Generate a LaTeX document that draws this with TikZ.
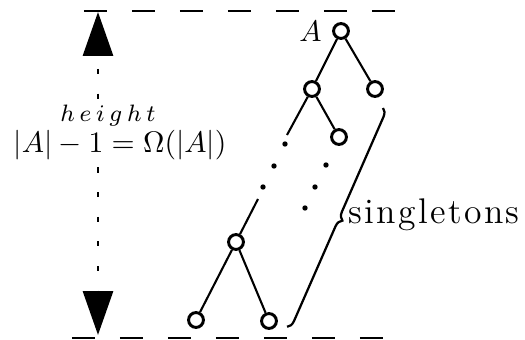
\documentclass[tikz,border=0pt]{standalone}
\usepackage{fontspec}
\usepackage{tikz}
\usetikzlibrary{arrows.meta, positioning, decorations.pathreplacing, calc}

\begin{document}
\begin{tikzpicture}[
    x=0.3367pt, y=-0.3367pt,
    vertex/.style={circle, draw, line width=1pt, fill=white, inner sep=0pt,
                   minimum size=5pt},
    edge/.style={line width=0.7pt},
    level/.style={line width=0.75pt, dash pattern=on 7.75pt off 8.4pt},
    measure/.style={line width=1pt, dash pattern=on 1.7pt off 6.6pt,
                    dash phase=3.7pt,
                    {Triangle[length=14.8pt, width=10.1pt]}-{Triangle[length=14.8pt, width=10.1pt]}},
]
    \useasboundingbox (0,0) rectangle (525,340);

    % Levels
    \coordinate (topl) at (84,11);
    \coordinate (topr) at (395,11);
    \coordinate (botl) at (72,338);
    \coordinate (botr) at (384,338);
    \draw[level] (topl) -- (topr);
    \draw[level] (botl) -- (botr);

    % Height arrow
    \coordinate (up) at (98,12);
    \coordinate (down) at (98,335);
    \draw[measure] (up) -- (down);
    \node[fill=white, inner sep=1pt] (bound) at (120,145)
        {$|A|-1=\Omega(|A|)$};
    \node[fill=white, inner sep=0.5pt, font=\footnotesize] (hlabel) at (108,116)
        {$h\kern1.6pt e\kern1.6pt i\kern1.6pt g\kern1.6pt h\kern1.6pt t$};

    % Tree
    \node[vertex] (root) at (341,31) {};
    \node[left=0pt of root] (rootname) {$A$};
    \node[vertex] (left1) at (312,89) {};
    \node[vertex] (right1) at (375,89) {};
    \node[vertex] (right2) at (339,137) {};
    \node[vertex] (left4) at (236,242) {};
    \node[vertex] (leaf1) at (196,320) {};
    \node[vertex] (leaf2) at (269,321) {};
    \coordinate (cut1) at (287,135);
    \coordinate (cut2) at (258,199);
    \draw[edge] (root) -- (left1);
    \draw[edge] (root) -- (right1);
    \draw[edge] (left1) -- (right2);
    \draw[edge] (left1) -- (cut1);
    \draw[edge] (cut2) -- (left4);
    \draw[edge] (left4) -- (leaf1);
    \draw[edge] (left4) -- (leaf2);

    % Dots
    \foreach \px/\py in {285/144, 274/166, 263/187, 326/165, 315/187, 305/208}
        \fill (\px,\py) circle (0.9pt);

    % Brace
    \coordinate (btop) at (383,108);
    \coordinate (bbot) at (287,327);
    \draw[line width=0.75pt, decorate, decoration={brace, amplitude=2.7pt}]
        (btop) -- (bbot);
    \node[anchor=west, inner sep=0pt, font=\fontsize{12}{14}\selectfont]
        (single) at (348,215)
        {s\kern.8pt i\kern.8pt n\kern.8pt g\kern.8pt l\kern.8pt e\kern.8pt t\kern.8pt o\kern.8pt n\kern.8pt s};
\end{tikzpicture}
\end{document}
